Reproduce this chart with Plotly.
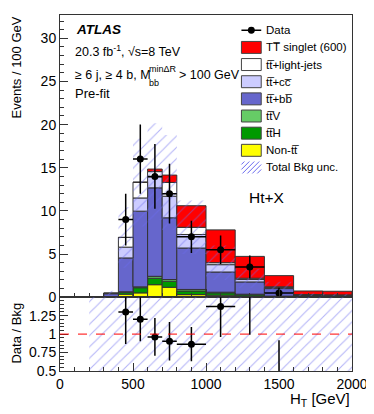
import numpy as np
import plotly.graph_objects as go

# ---------------- data ----------------
edges = [200, 300, 400, 500, 600, 700, 800, 1000, 1200, 1400, 1600, 1800, 2000]

non_tt = [0.0, 0.05, 0.35, 0.50, 1.45, 1.15, 0.30, 0.23, 0.15, 0.05, 0.02, 0.02]
tth    = [0.0, 0.02, 0.23, 0.60, 0.75, 0.70, 0.42, 0.27, 0.15, 0.05, 0.02, 0.02]
ttv    = [0.0, 0.01, 0.05, 0.10, 0.22, 0.20, 0.18, 0.08, 0.05, 0.02, 0.01, 0.01]
ttbb   = [0.0, 0.32, 3.92, 8.77, 10.25, 7.15, 4.80, 2.34, 1.42, 0.88, 0.17, 0.15]
ttcc   = [0.0, 0.05, 1.25, 1.53, 1.28, 2.50, 1.57, 0.85, 0.28, 0.15, 0.04, 0.03]
ttlight = [0.0, 0.05, 1.12, 1.80, 0.60, 1.60, 0.83, 0.23, 0.15, 0.05, 0.04, 0.04]
signal = [0.0, 0.0, 0.02, 0.05, 0.30, 0.85, 2.50, 3.80, 2.53, 1.30, 0.42, 0.42]
bkg_unc = [0.0, 0.25, 3.5, 5.1, 5.6, 5.5, 3.1, 2.0, 1.1, 0.6, 0.15, 0.13]
ratio_rel_unc = [0.70, 0.65, 0.60, 0.55, 0.55, 0.55, 0.55, 0.60, 0.60, 0.65, 0.70, 0.70]

data_vals   = [None, None, 9.0, 16.0, 14.0, 12.0, 7.0, 5.5, 3.5, 0.5, None, None]
data_err_up = [None, None, 3.0, 4.0, 3.74, 3.46, 1.87, 1.66, 1.32, 0.60, None, None]
data_err_dn = [None, None, 3.0, 4.0, 3.74, 3.46, 1.87, 1.66, 1.32, 0.40, None, None]

legend_labels = ["Data", "TT\u0305 singlet (600)", "tt\u0305+light-jets", "tt\u0305+cc\u0305",
                 "tt\u0305+bb\u0305", "tt\u0305V", "tt\u0305H", "Non-tt\u0305", "Total Bkg unc."]

# ---------------- styles ----------------
FONT = "Liberation Sans, Arial, Helvetica, sans-serif"
C_SIG, C_LIGHT, C_CC, C_BB = "#ff0000", "#ffffff", "#ccccff", "#6666cc"
C_TTV, C_TTH, C_NONTT = "#66cc66", "#009900", "#ffff00"
C_HATCH = "#6b6bef"
OUTLINE = "#333333"

e = np.array(edges, dtype=float)
centers = (e[:-1] + e[1:]) / 2
widths = e[1:] - e[:-1]

comps = [(non_tt, C_NONTT), (tth, C_TTH), (ttv, C_TTV), (ttbb, C_BB),
         (ttcc, C_CC), (ttlight, C_LIGHT), (signal, C_SIG)]

fig = go.Figure()
base = np.zeros(len(centers))
for vals, col in comps:
    v = np.array(vals, dtype=float)
    m = v > 0
    fig.add_trace(go.Bar(x=centers[m], y=v[m], base=base[m], width=widths[m],
                         marker=dict(color=col, line=dict(color=OUTLINE, width=1)),
                         xaxis="x", yaxis="y", showlegend=False, hoverinfo="skip"))
    base = base + v

bkg = (np.array(non_tt) + np.array(tth) + np.array(ttv) + np.array(ttbb)
       + np.array(ttcc) + np.array(ttlight))
unc = np.array(bkg_unc)
m = unc > 0
fig.add_trace(go.Bar(x=centers[m], y=2 * unc[m], base=(bkg - unc)[m], width=widths[m],
                     marker=dict(color="rgba(0,0,0,0)", line=dict(width=0),
                                 pattern=dict(shape="/", fgcolor=C_HATCH, size=8, solidity=0.14)),
                     xaxis="x", yaxis="y", showlegend=False, hoverinfo="skip"))

# data points
idx = [i for i, v in enumerate(data_vals) if v is not None]
dx = centers[idx]
dy = np.array([data_vals[i] for i in idx])
dup = np.array([data_err_up[i] for i in idx])
ddn = np.array([data_err_dn[i] for i in idx])
dw = widths[idx] / 2
fig.add_trace(go.Scatter(x=dx, y=dy, mode="markers",
                         marker=dict(color="black", size=7),
                         error_y=dict(type="data", symmetric=False, array=dup, arrayminus=ddn,
                                      color="black", thickness=1.5, width=0),
                         error_x=dict(type="data", array=dw, color="black", thickness=1.5, width=0),
                         xaxis="x", yaxis="y", showlegend=False, hoverinfo="skip"))

# ratio panel band
rr = np.array(ratio_rel_unc)
fig.add_trace(go.Bar(x=centers, y=2 * rr, base=1 - rr, width=widths,
                     marker=dict(color="rgba(0,0,0,0)", line=dict(width=0),
                                 pattern=dict(shape="/", fgcolor=C_HATCH, size=8, solidity=0.14)),
                     xaxis="x2", yaxis="y2", showlegend=False, hoverinfo="skip"))
bkg_d = bkg[idx]
fig.add_trace(go.Scatter(x=dx, y=dy / bkg_d, mode="markers",
                         marker=dict(color="black", size=7),
                         error_y=dict(type="data", symmetric=False, array=dup / bkg_d,
                                      arrayminus=ddn / bkg_d, color="black", thickness=1.5, width=0),
                         error_x=dict(type="data", array=dw, color="black", thickness=1.5, width=0),
                         xaxis="x2", yaxis="y2", showlegend=False, hoverinfo="skip"))

# ---------------- layout ----------------
OFF = 8                      # default page body margin
PW, PH = 374, 414            # page size
L, R, T, B = 60, 355, 14, 371  # plot area in page pixels
W, H = PW - OFF, PH - OFF
split = 297
def px(x):
    return (x - L) / (R - L)
def py(y):
    return (B - y) / (B - T)

ax_common = dict(showline=True, mirror=True, linecolor="#333333", linewidth=1,
                 ticks="inside", tickcolor="#333333", showgrid=False, zeroline=False,
                 tickfont=dict(family=FONT, size=14, color="black"))

fig.update_layout(
    width=W, height=H, margin=dict(l=L - OFF, r=PW - R, t=T - OFF, b=PH - B),
    paper_bgcolor="white", plot_bgcolor="white", barmode="overlay",
    font=dict(family=FONT, color="black"),
    xaxis=dict(domain=[0, 1], anchor="y", range=[0, 2000], tickvals=[0, 500, 1000, 1500, 2000],
               ticklen=8, showticklabels=False,
               minor=dict(ticks="inside", ticklen=4, dtick=100, tick0=0, tickcolor="#333333"),
               **ax_common),
    yaxis=dict(domain=[py(split), 1], anchor="x", range=[0, 32.7],
               tickvals=[0, 5, 10, 15, 20, 25, 30], ticklen=8,
               minor=dict(ticks="inside", ticklen=4, dtick=1, tick0=0, tickcolor="#333333"),
               **ax_common),
    xaxis2=dict(domain=[0, 1], anchor="y2", matches="x", range=[0, 2000],
                tickvals=[0, 500, 1000, 1500, 2000], ticklen=8,
                minor=dict(ticks="inside", ticklen=4, dtick=100, tick0=0, tickcolor="#333333"),
                **ax_common),
    yaxis2=dict(domain=[0, py(split)], anchor="x2", range=[0.5, 1.5],
                tickvals=[0.5, 0.75, 1, 1.25], ticktext=["0.5", "0.75", "1", "1.25"], ticklen=8,
                minor=dict(ticks="inside", ticklen=4, dtick=0.05, tick0=0.5, tickcolor="#333333"),
                **ax_common),
)

shapes = []
annots = []

# red dashed line at 1 in ratio panel
shapes.append(dict(type="line", xref="x2 domain", yref="y2", x0=0, x1=1, y0=1, y1=1,
                   line=dict(color="red", width=1, dash="dash")))

def text(x, y, s, size, anchor="left", **kw):
    annots.append(dict(x=px(x), y=py(y), xref="paper", yref="paper", text=s, showarrow=False,
                       xanchor=anchor, yanchor="middle", borderpad=0,
                       font=dict(family=FONT, size=size, color="black"), **kw))

# upper-left texts
text(75, 28.5, "<b><i>ATLAS</i></b>", 13.5)
text(74, 50, "20.3 fb<sup>-1</sup>, \u221as=8 TeV", 12.5)
text(74, 74.5, "\u2265 6 j, \u2265 4 b, M", 12.5)
text(149, 68, "min\u0394R", 9)
text(149, 82.5, "bb", 9)
text(179, 74.5, "> 100 GeV", 12.5)
text(74, 93, "Pre-fit", 13)
text(250, 197, "Ht+X", 15.5)

# axis titles
text(354, 400, "H<sub>T</sub> [GeV]", 15, anchor="right")
annots.append(dict(x=px(16), y=1, xref="paper", yref="paper", text="Events / 100 GeV",
                   showarrow=False, textangle=-90, xanchor="center", yanchor="top", borderpad=0,
                   font=dict(family=FONT, size=13, color="black")))
annots.append(dict(x=px(16), y=py(333), xref="paper", yref="paper", text="Data / Bkg",
                   showarrow=False, textangle=-90, xanchor="center", yanchor="middle", borderpad=0,
                   font=dict(family=FONT, size=13, color="black")))

# legend (manual, ROOT style)
leg_x0, leg_x1 = 243.3, 263.3
row0, dy_row = 29.3, 17.2
sw_cols = [None, C_SIG, C_LIGHT, C_CC, C_BB, C_TTV, C_TTH, C_NONTT, None]
for i, lab in enumerate(legend_labels):
    yc = row0 + i * dy_row
    if i == 0:
        shapes.append(dict(type="line", xref="paper", yref="paper", x0=px(leg_x0), x1=px(leg_x1),
                           y0=py(yc), y1=py(yc), line=dict(color="black", width=1.5)))
        shapes.append(dict(type="circle", xref="paper", yref="paper", x0=px(253.3 - 3.5),
                           x1=px(253.3 + 3.5), y0=py(yc + 3.5), y1=py(yc - 3.5),
                           fillcolor="black", line=dict(color="black", width=0)))
    elif sw_cols[i] is not None:
        shapes.append(dict(type="rect", xref="paper", yref="paper", x0=px(leg_x0), x1=px(leg_x1),
                           y0=py(yc + 6), y1=py(yc - 6), fillcolor=sw_cols[i],
                           line=dict(color="#444444", width=1)))
    else:
        a, b, c1, c2 = leg_x0, leg_x1, yc - 6, yc + 6
        for cc in np.arange(a + c1 + 3, b + c2, 5.0):
            xs = max(a, cc - c2)
            xe = min(b, cc - c1)
            if xe - xs < 1:
                continue
            shapes.append(dict(type="line", xref="paper", yref="paper",
                               x0=px(xs), x1=px(xe), y0=py(cc - xs), y1=py(cc - xe),
                               line=dict(color=C_HATCH, width=1)))
    text(267, yc, lab, 11.5)

fig.update_layout(shapes=shapes, annotations=annots)
fig.write_html("out.html")
